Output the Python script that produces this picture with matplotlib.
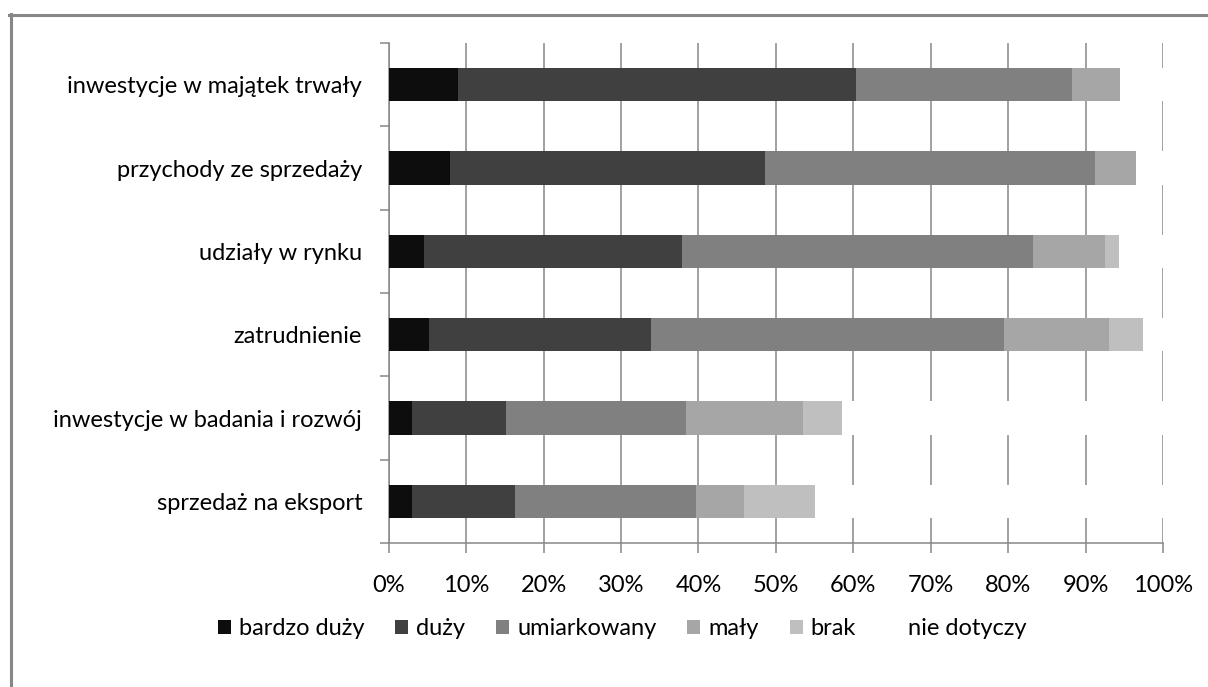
import matplotlib
matplotlib.use("Agg")
import matplotlib.pyplot as plt
from matplotlib.patches import Patch
from matplotlib.lines import Line2D
import numpy as np

plt.rcParams['font.family'] = ['Lato', 'DejaVu Sans']

categories = [
    "inwestycje w majątek trwały",
    "przychody ze sprzedaży",
    "udziały w rynku",
    "zatrudnienie",
    "inwestycje w badania i rozwój",
    "sprzedaż na eksport",
]
series_names = ["bardzo duży", "duży", "umiarkowany", "mały", "brak", "nie dotyczy"]

bardzo_duzy = [9.0, 7.9, 4.6, 5.2, 3.0, 3.0]
duzy = [51.3, 40.7, 33.3, 28.7, 12.2, 13.3]
umiarkowany = [27.9, 42.6, 45.3, 45.5, 23.2, 23.4]
maly = [6.2, 5.3, 9.3, 13.6, 15.1, 6.2]
brak = [0.0, 0.0, 1.8, 4.4, 5.0, 9.2]
nie_dotyczy = [5.6, 3.5, 5.7, 2.6, 41.5, 44.9]

x_ticks = [0, 10, 20, 30, 40, 50, 60, 70, 80, 90, 100]
x_tick_labels = [f"{t}%" for t in x_ticks]

colors = ["#0d0d0d", "#404040", "#808080", "#a6a6a6", "#bfbfbf", "#ffffff"]
grid_grey = "#878787"
fs = 17

fig = plt.figure(figsize=(12.08, 6.87), dpi=100)
ax = fig.add_axes([0.3217, 0.2096, 0.9630 - 0.3217, 0.9374 - 0.2096])

values = [bardzo_duzy, duzy, umiarkowany, maly, brak, nie_dotyczy]
n = len(categories)
ypos = np.arange(n)[::-1]
left = np.zeros(n)
for vals, col, name in zip(values, colors, series_names):
    vals = np.asarray(vals)
    ax.barh(ypos, vals, left=left, height=0.40, color=col, label=name,
            edgecolor="none", zorder=3)
    left += vals

ax.set_xlim(0, 100)
ax.set_ylim(-0.5, n - 0.5)

# vertical gridlines at each 10 %
ax.set_xticks(x_ticks)
ax.set_xticklabels(x_tick_labels, fontsize=fs)
ax.xaxis.grid(True, color=grid_grey, linewidth=1.1, zorder=0)
ax.set_axisbelow(True)
ax.tick_params(axis="x", direction="out", length=7.2, width=1.1,
               color=grid_grey, pad=16, labelcolor="black")

# category labels at bar centres, tick marks at category borders
ax.set_yticks(ypos)
ax.set_yticklabels(categories, fontsize=fs)
ax.tick_params(axis="y", which="major", length=0, pad=19)
ax.set_yticks(np.arange(-0.5, n, 1.0), minor=True)
ax.tick_params(axis="y", which="minor", direction="out", length=6.5,
               width=1.1, color=grid_grey)

for side in ("top", "right"):
    ax.spines[side].set_visible(False)
for side in ("left", "bottom"):
    ax.spines[side].set_color(grid_grey)
    ax.spines[side].set_linewidth(1.1)

handles = [Patch(facecolor=c, edgecolor="none") for c in colors]
fig.legend(handles, series_names, loc="center", bbox_to_anchor=(0.515, 0.085),
           ncol=6, frameon=False, fontsize=fs, handlelength=0.55,
           handleheight=0.55, handletextpad=0.35, columnspacing=1.3)

# outer chart-area frame (top and left edges visible)
fig.add_artist(Line2D([9 / 1208, 1.0], [1 - 15 / 687, 1 - 15 / 687],
                      transform=fig.transFigure, color=grid_grey, linewidth=2.2))
fig.add_artist(Line2D([10.5 / 1208, 10.5 / 1208], [0.0, 1 - 14 / 687],
                      transform=fig.transFigure, color=grid_grey, linewidth=2.2))

fig.savefig("out.png", dpi=100, facecolor="white")
